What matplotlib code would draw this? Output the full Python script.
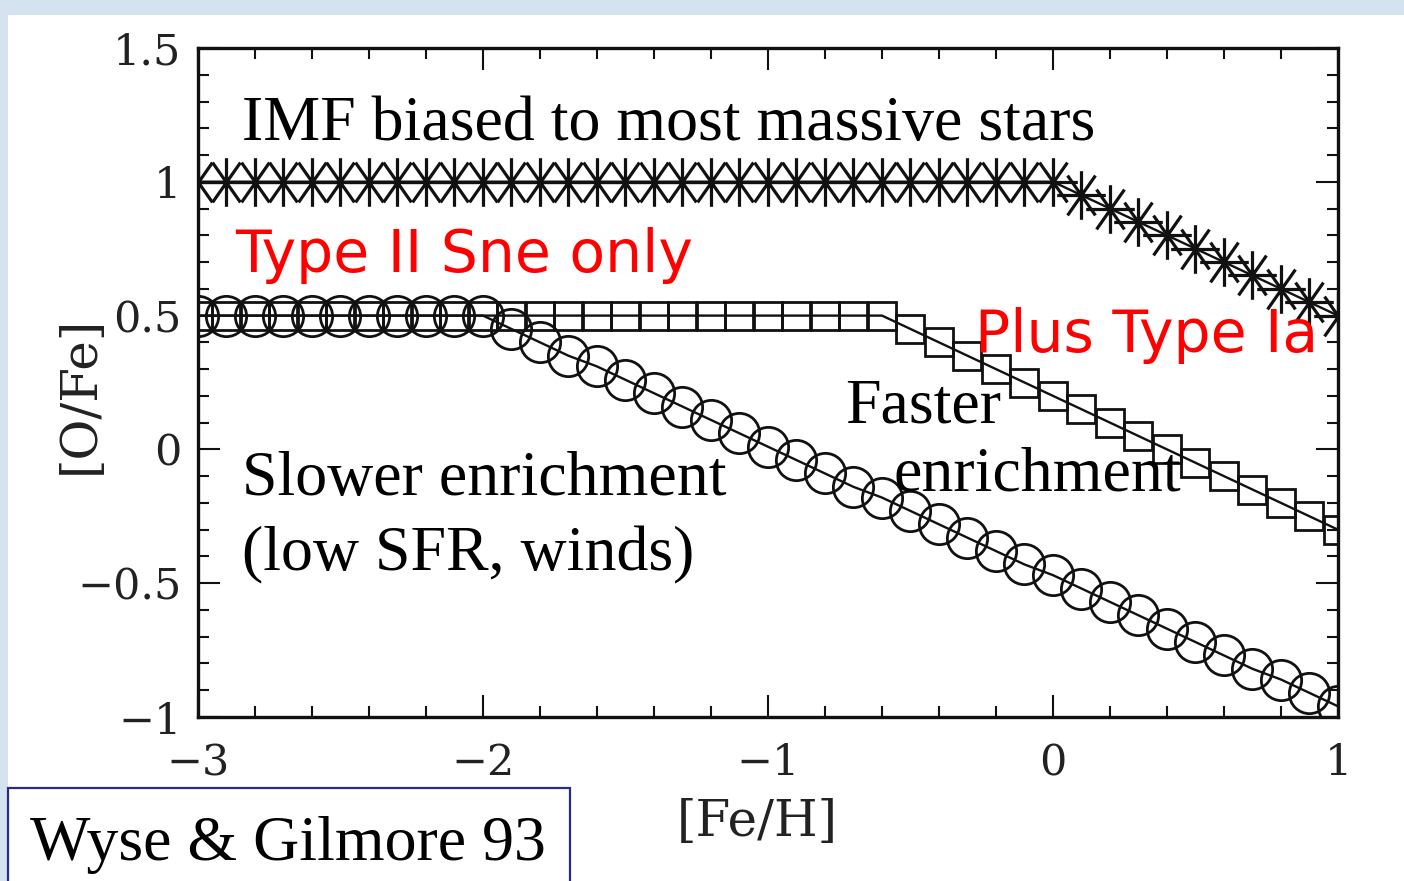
import numpy as np
import matplotlib
matplotlib.use('Agg')
import matplotlib.pyplot as plt
from matplotlib.path import Path
from matplotlib.patches import Rectangle

# --- data ---
fe_h = [-3.0, -2.9, -2.8, -2.7, -2.6, -2.5, -2.4, -2.3, -2.2, -2.1,
        -2.0, -1.9, -1.8, -1.7, -1.6, -1.5, -1.4, -1.3, -1.2, -1.1,
        -1.0, -0.9, -0.8, -0.7, -0.6, -0.5, -0.4, -0.3, -0.2, -0.1,
        0.0, 0.1, 0.2, 0.3, 0.4, 0.5, 0.6, 0.7, 0.8, 0.9, 1.0]

# IMF biased to most massive stars (asterisks)
o_fe_imf = [1.0, 1.0, 1.0, 1.0, 1.0, 1.0, 1.0, 1.0, 1.0, 1.0,
            1.0, 1.0, 1.0, 1.0, 1.0, 1.0, 1.0, 1.0, 1.0, 1.0,
            1.0, 1.0, 1.0, 1.0, 1.0, 1.0, 1.0, 1.0, 1.0, 1.0,
            1.0, 0.95, 0.90, 0.85, 0.80, 0.75, 0.70, 0.65, 0.60, 0.55, 0.50]

# faster enrichment (squares)
o_fe_fast = [0.5, 0.5, 0.5, 0.5, 0.5, 0.5, 0.5, 0.5, 0.5, 0.5,
             0.5, 0.5, 0.5, 0.5, 0.5, 0.5, 0.5, 0.5, 0.5, 0.5,
             0.5, 0.5, 0.5, 0.5, 0.5, 0.45, 0.40, 0.35, 0.30, 0.25,
             0.20, 0.15, 0.10, 0.05, 0.00, -0.05, -0.10, -0.15, -0.20, -0.25, -0.30]

# slower enrichment (circles)
o_fe_slow = [0.5, 0.5, 0.5, 0.5, 0.5, 0.5, 0.5, 0.5, 0.5, 0.5,
             0.5, 0.45, 0.40, 0.35, 0.31, 0.26, 0.21, 0.16, 0.11, 0.06,
             0.01, -0.04, -0.09, -0.14, -0.18, -0.23, -0.28, -0.33, -0.38, -0.43,
             -0.47, -0.52, -0.57, -0.62, -0.67, -0.72, -0.77, -0.82, -0.86, -0.91, -0.96]

# asterisk marker like the old PGPLOT one
verts, codes = [], []
for ang in (0, 55, 90, 125):
    a = np.deg2rad(ang)
    verts += [(-np.cos(a), -np.sin(a)), (np.cos(a), np.sin(a))]
    codes += [Path.MOVETO, Path.LINETO]
star = Path(verts, codes)

W, H = 1404, 881
fig = plt.figure(figsize=(W / 100, H / 100), dpi=100)
fig.patch.set_facecolor('#d5e3f1')
fig.patches.append(Rectangle((8 / W, 0), 1, 1 - 15 / H, transform=fig.transFigure,
                             facecolor='white', edgecolor='none', zorder=-5))

ax = fig.add_axes([198 / W, 1 - 717 / H, 1140 / W, 669 / H])
ax.patch.set_alpha(0)
ink = '#111111'

ax.plot(fe_h, o_fe_fast, color=ink, lw=1.7, marker='s', ms=20, mfc='none',
        mec=ink, mew=2.0)
ax.plot(fe_h, o_fe_slow, color=ink, lw=1.7, marker='o', ms=29, mfc='none',
        mec=ink, mew=2.0)
ax.plot(fe_h, o_fe_imf, color=ink, lw=1.7, marker=star, ms=35, mfc='none',
        mec=ink, mew=2.3)

ax.set_xlim(-3, 1)
ax.set_ylim(-1, 1.5)
ax.set_xticks([-3, -2, -1, 0, 1])
ax.set_xticklabels(['\u22123', '\u22122', '\u22121', '0', '1'])
ax.set_yticks([-1, -0.5, 0, 0.5, 1, 1.5])
ax.set_yticklabels(['\u22121', '\u22120.5', '0', '0.5', '1', '1.5'])
ax.set_xticks(np.arange(-3, 1.01, 0.2), minor=True)
ax.set_yticks(np.arange(-1, 1.51, 0.1), minor=True)
ax.tick_params(which='both', direction='in', top=True, right=True,
               width=1.5, color=ink)
ax.tick_params(which='major', length=16)
ax.tick_params(which='minor', length=8)
ax.tick_params(axis='y', pad=12)
ax.tick_params(axis='x', pad=18)
for lab in ax.get_xticklabels() + ax.get_yticklabels():
    lab.set_fontfamily('DejaVu Serif')
    lab.set_fontsize(31)
    lab.set_color('#222222')
for sp in ax.spines.values():
    sp.set_linewidth(2.4)
    sp.set_color(ink)

fig.text(757 / W, 1 - 822 / H, '[Fe/H]', family='DejaVu Serif', fontsize=36,
         ha='center', va='center', color='#222222')
fig.text(80 / W, 1 - 395 / H, '[O/Fe]', family='DejaVu Serif', fontsize=36,
         rotation=90, ha='center', va='center', color='#222222')

serif = 'Liberation Serif'
ax.text(-2.846, 1.156, 'IMF biased to most massive stars', family=serif,
        fontsize=46, color='black', va='baseline')
ax.text(-2.846, -0.170, 'Slower enrichment', family=serif, fontsize=46,
        color='black', va='baseline')
ax.text(-2.846, -0.451, '(low SFR, winds)', family=serif, fontsize=46,
        color='black', va='baseline')
ax.text(-0.730, 0.099, 'Faster', family=serif, fontsize=46, color='black',
        va='baseline')
ax.text(-0.561, -0.152, 'enrichment', family=serif, fontsize=46,
        color='black', va='baseline')

ax.text(-2.870, 0.663, 'Type II Sne only', family='DejaVu Sans', fontsize=42,
        color='#ff0000', va='baseline')
ax.text(-0.274, 0.364, 'Plus Type Ia', family='DejaVu Sans', fontsize=42,
        color='#ff0000', va='baseline')

# reference box
fig.patches.append(Rectangle((8 / W, -0.05), 562 / W, 0.05 + (881 - 788) / H,
                             transform=fig.transFigure, facecolor='white',
                             edgecolor='#2a2a8a', lw=1.6, zorder=3))
fig.text(30 / W, 1 - 860 / H, 'Wyse & Gilmore 93', family=serif, fontsize=46,
         color='black', va='baseline', zorder=4)

fig.savefig('out.png', dpi=100, facecolor=fig.get_facecolor())
